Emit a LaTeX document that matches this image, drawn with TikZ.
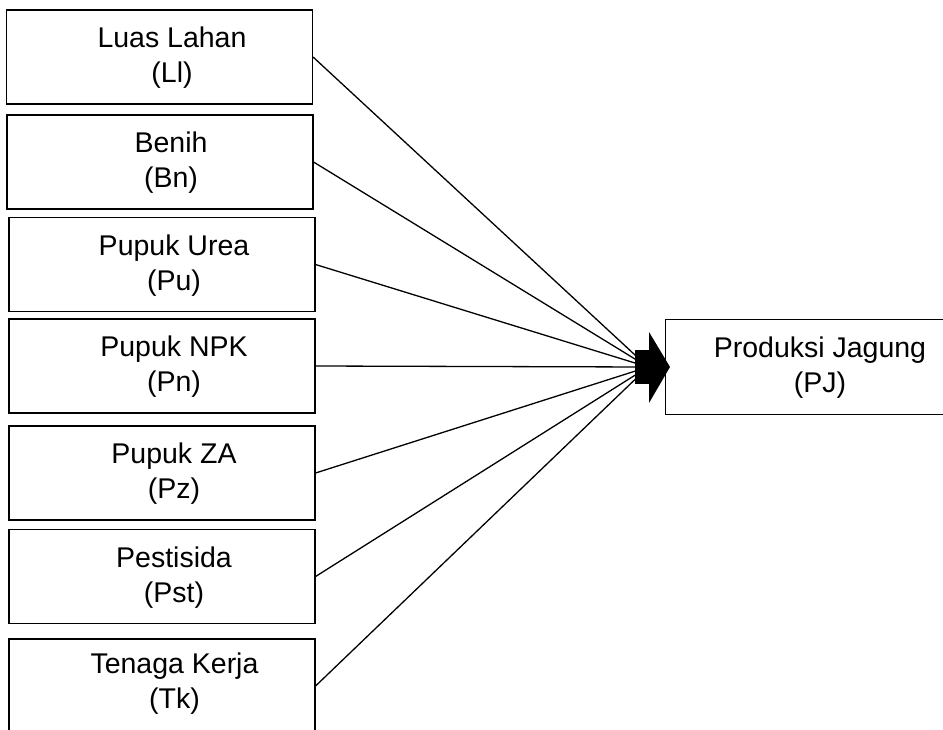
\documentclass[tikz,border=0pt]{standalone}
\usepackage{fontspec}
\setmainfont{Liberation Sans}
\begin{document}
\begin{tikzpicture}[x=1pt,y=-1pt,
  box/.style={draw=black,line width=1.1pt,rectangle,minimum width=306pt,minimum height=94pt,inner sep=0pt},
  lbl/.style={align=center,inner sep=0pt,font=\fontsize{28.5}{35}\selectfont},
  conn/.style={line width=1.3pt,line cap=round}]
\useasboundingbox (0,0) rectangle (943,729);
\clip (0,0) rectangle (943,729);
% input boxes
\node[box] (ll) at (159.5,57) {};
\node[box] (bn) at (160,162) {};
\node[box] (pu) at (162,264.5) {};
\node[box] (pn) at (162,366) {};
\node[box] (pz) at (162,473) {};
\node[box] (pst) at (162,576.5) {};
\node[box] (tk) at (162,686) {};
% labels
\node[lbl] (llt) at (172,58) {Luas Lahan\\(Ll)};
\node[lbl] (bnt) at (171,163) {Benih\\(Bn)};
\node[lbl] (put) at (174,265.5) {Pupuk Urea\\(Pu)};
\node[lbl] (pnt) at (174,367) {Pupuk NPK\\(Pn)};
\node[lbl] (pzt) at (174,474) {Pupuk ZA\\(Pz)};
\node[lbl] (pstt) at (174,577.5) {Pestisida\\(Pst)};
\node[lbl] (tkt) at (174.5,684) {Tenaga Kerja\\(Tk)};
% output box (right edge runs off the picture)
\node[box,draw=none,minimum width=334pt] (pj) at (833,367) {};
\draw[line width=1.1pt] (pj.north east) -- (pj.north west) -- (pj.south west) -- (pj.south east);
\node[lbl] (pjt) at (820,368) {Produksi Jagung\\(PJ)};
% hub
\coordinate (hub) at (648,367);
\foreach \n in {ll,bn,pu,pn,pz,pst,tk} {
  \draw[conn] (\n.east) -- (hub);
}
% block arrow head
\fill[black] ([shift={(-13,-17)}]hub) rectangle ([shift={(1,17)}]hub);
\fill[black] ([shift={(1,-35)}]hub) -- ([shift={(22,0)}]hub) -- ([shift={(1,36)}]hub) -- cycle;
\end{tikzpicture}
\end{document}
